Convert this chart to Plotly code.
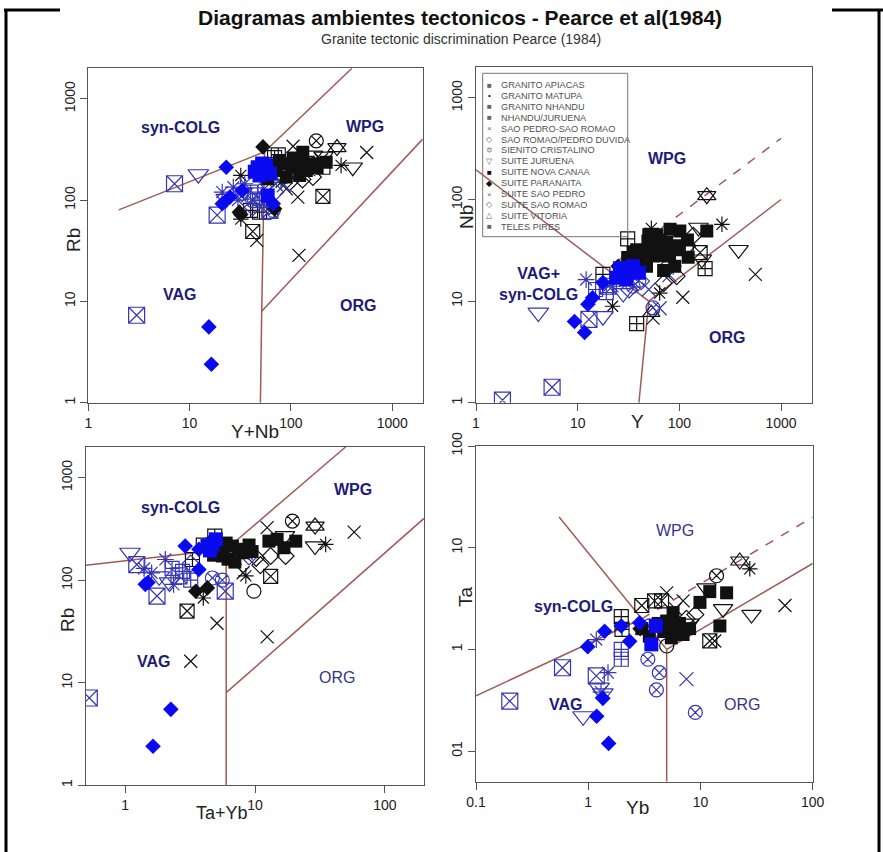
import plotly.graph_objects as go

W, H = 883, 852

# ---------------- DATA ----------------
# Panel 1 : Rb vs Y+Nb
P1_X = [3.0, 7.1, 18.7, 62, 45,
        12.2, 23, 33,
        27, 21, 35, 30,
        42, 67, 63, 55,
        49, 40,
        77, 97, 85,
        42, 70,
        60,
        560, 117, 120, 46, 105, 90, 150, 200,
        178,
        285,
        313, 32, 32, 80,
        408, 165, 210,
        207, 42, 145,
        69, 40, 49, 207, 75,
        165, 97, 130, 110,
        85,
        131, 223, 165, 105, 72, 90, 59, 142, 105, 77, 122, 130, 95, 180,
        53, 31, 69, 32,
        47, 53, 57, 49, 62, 59, 52, 44,
        15.5, 16.4, 23, 21, 25, 33, 67]
P1_Y = [7.3, 145, 71, 79, 110,
        180, 103, 118,
        134, 120, 145, 100,
        99, 79, 86, 130,
        99, 120,
        156, 182, 140,
        85, 120,
        75,
        295, 107, 28.5, 40, 340, 129, 200, 250,
        385,
        330,
        220, 175, 65, 150,
        211, 276, 270,
        109, 49, 230,
        262, 79, 76, 211, 280,
        169, 150, 160, 190,
        170,
        297, 237, 228, 211, 196, 169, 162, 196, 261, 246, 175, 240, 230, 210,
        335, 76, 82, 72,
        211, 196, 220, 175, 182, 111, 230, 190,
        5.6, 2.4, 211, 92, 107, 124, 92]
P1_S = (["b14"] * 5 + ["b6"] * 3 + ["b8"] * 4 + ["b13"] * 4 + ["b12"] * 2 + ["b4"] * 3 + ["b5"] * 2 + ["b1"] +
        ["k4"] * 8 + ["k13"] + ["k11"] + ["k8"] * 4 + ["k6"] * 3 + ["k14"] * 3 + ["k12"] * 5 + ["k5"] * 4 + ["k1"] +
        ["k15"] * 14 + ["k18"] * 4 + ["bs"] * 8 + ["bd"] * 7)

# Panel 2 : Nb vs Y
P2_X = [1.82, 5.6, 12.9, 20,
        4.1, 17.7, 28,
        12.1, 87, 22,
        19.1, 15,
        35, 55, 75, 40,
        42, 32,
        64, 50, 80,
        186,
        262, 53, 22, 64,
        382, 154, 166,
        558, 108, 55,
        31, 179, 38, 17.7,
        137, 94, 120, 70,
        53,
        160,
        81, 101, 186, 122, 75, 49, 38, 55, 41, 31, 64, 47.5, 60, 70, 90, 45, 55, 65, 80, 100, 120, 90, 70, 35, 50,
        25,
        28, 32.5, 30, 24, 35, 26, 40,
        9.3, 11.7, 12.6, 14, 17.7]
P2_Y = [1.06, 1.42, 6.6, 14,
        7.7, 7.1, 12,
        16.3, 22, 14,
        12.1, 13,
        14, 8.6, 21, 16,
        15.7, 13,
        8.5, 13, 18,
        109,
        57, 52, 8.9, 12,
        32, 53, 25.8,
        18.3, 10.9, 6.8,
        41, 20.9, 6.0, 18.3,
        44, 17.6, 35, 15,
        7.7,
        30,
        51, 49, 49, 27, 37.7, 39, 32, 27.8, 25.8, 26.8, 30, 22, 45, 28, 35, 30, 35, 40, 28, 32, 40, 22, 20, 30, 45,
        22,
        19, 20.5, 16.3, 17, 22, 21, 19,
        6.3, 4.9, 9.3, 10.8, 15.2]
P2_S = (["b14"] * 4 + ["b6"] * 3 + ["b8"] * 3 + ["b12"] * 2 + ["b13"] * 4 + ["b5"] * 2 + ["b4"] * 3 +
        ["k11"] + ["k8"] * 4 + ["k6"] * 3 + ["k4"] * 3 + ["k12"] * 4 + ["k5"] * 4 + ["k2"] + ["k14"] +
        ["k15"] * 25 + ["k18"] + ["bs"] * 7 + ["bd"] * 5)

# Panel 3 : Rb vs Ta+Yb
P3_X = [0.53, 1.23, 1.76, 5.9, 2.6,
        1.09, 1.83, 2.2,
        2.04, 2.36, 1.6, 1.4,
        2.77, 3.2, 2.3,
        4.7, 5.6,
        8.5, 7.0,
        3.2, 9,
        58, 3.2, 5.1, 12.4, 12.4, 8.1,
        9.8,
        3.0, 13.2,
        29,
        19.4,
        29, 17,
        35, 4.0, 8.5,
        4.9, 3.3, 4.0,
        17.2, 13.2, 11, 10.2,
        14.8, 20.6, 16.7, 12.8, 6.7, 5.6, 8.1, 7.5, 6.2, 5.2, 9.5, 7, 4.8, 9, 6,
        3.5, 4.3,
        4.7, 4.3, 5.0, 4.5,
        1.43, 2.9, 3.7, 3.7, 1.64, 2.25, 1.5]
P3_Y = [7.1, 142, 70, 78, 110,
        185, 109, 95,
        159, 91, 118, 130,
        122, 100, 130,
        105, 100,
        185, 165,
        145, 170,
        294, 16.2, 38, 28, 325, 118,
        78,
        50, 109,
        337,
        377,
        215, 270,
        223, 67, 110,
        269, 159, 220,
        172, 172, 140, 165,
        250, 240, 207, 240, 215, 172, 185, 200, 160, 190, 190, 150, 175, 220, 230,
        78, 84,
        224, 215, 250, 195,
        91, 215, 200, 127, 2.4, 5.5, 95]
P3_S = (["b14"] * 5 + ["b6"] * 3 + ["b8"] * 4 + ["b12"] * 3 + ["b13"] * 2 + ["b4"] * 2 + ["b5"] * 2 +
        ["k4"] * 6 + ["k1"] + ["k14"] * 2 + ["k11"] + ["k13"] + ["k6"] * 2 + ["k8"] * 3 + ["k12"] * 3 + ["k5"] * 4 +
        ["k15"] * 15 + ["k18"] * 2 + ["bs"] * 4 + ["bd"] * 7)

# Panel 4 : Ta vs Yb
P4_X = [0.2, 0.59, 1.18,
        0.9, 1.35, 1.25,
        1.18, 1.5, 1.3,
        1.97, 1.97,
        3.4, 4.3, 4.05, 9.0, 3.5,
        7.5,
        22.4,
        27.5,
        13.9,
        56.6, 5.0, 13.4, 7.0, 6.0,
        28.5, 15.9, 11.3, 8,
        3.0, 3.9, 12.1, 4.5,
        1.97, 2.0,
        5.0,
        7.5, 9,
        12.1, 17.1, 9.9, 14.9, 8.0, 5.7, 5.0, 6.1, 3.5, 4.7, 6.5, 5.5, 7, 3.0, 4.2,
        2.9,
        3.65, 4.0,
        0.99, 1.4, 1.97, 2.34, 2.87, 1.35, 1.19, 1.52]
P4_Y = [0.31, 0.66, 0.55,
        0.22, 0.37, 0.42,
        1.25, 0.59, 0.38,
        0.8, 1.0,
        0.8, 0.59, 0.4, 0.24, 1.7,
        0.51,
        7.4,
        6.2,
        5.3,
        2.7, 3.6, 1.21, 3.0, 2.5,
        2.2, 2.5, 4.0, 1.8,
        2.7, 3.0, 1.21, 3.0,
        2.1, 1.57,
        1.08,
        2.0, 2.2,
        3.7, 3.6, 2.9, 1.7, 1.6, 2.3, 1.9, 1.46, 1.35, 1.5, 1.8, 1.3, 1.4, 1.6, 1.8,
        1.6,
        1.12, 1.7,
        1.06, 1.51, 1.7, 1.2, 1.83, 0.33, 0.22, 0.119]
P4_S = (["b14"] * 3 + ["b6"] * 3 + ["b8"] * 3 + ["b12"] * 2 + ["b13"] * 5 + ["b4"] +
        ["k11"] + ["k8"] + ["k13"] + ["k4"] * 5 + ["k6"] * 4 + ["k14"] * 4 + ["k12"] * 2 + ["k1"] + ["k5"] * 2 +
        ["k15"] * 15 + ["k18"] + ["bs"] * 2 + ["bd"] * 8)

# Pearce et al. (1984) field boundaries (x pairs, y pairs)
P1_LINES = [((2, 55), (80, 300)), ((55, 400), (300, 2000)), ((55, 51.5), (300, 8)),
            ((51.5, 50), (8, 1)), ((51.5, 2000), (8, 400))]
P2_LINES = [((1, 50), (196, 10)), ((50, 40), (10, 1)), ((50, 1000), (10, 100))]
P2_DASH = [((25, 1000), (25, 400))]
P3_LINES = [((0.5, 6), (140, 200)), ((6, 50), (200, 2000)), ((6, 6), (200, 8)),
            ((6, 6), (8, 1)), ((6, 200), (8, 400))]
P4_LINES = [((0.55, 3), (20, 2)), ((0.1, 3), (0.35, 2)), ((3, 5), (2, 1)),
            ((5, 5), (1, 0.05)), ((5, 100), (1, 7))]
P4_DASH = [((3, 100), (2, 20))]

LEGEND_NAMES = ["GRANITO APIACAS", "GRANITO MATUPA", "GRANITO NHANDU", "NHANDU/JURUENA",
                "SAO PEDRO-SAO ROMAO", "SAO ROMAO/PEDRO DUVIDA", "SIENITO CRISTALINO", "SUITE JURUENA",
                "SUITE NOVA CANAA", "SUITE PARANAITA", "SUITE SAO PEDRO", "SUITE SAO ROMAO",
                "SUITE VITORIA", "TELES PIRES"]
LEGEND_GLYPHS = ["■", "•", "■", "■", "×", "◇", "✡", "▽", "■", "◆", "×", "◇", "△", "■"]

# ---------------- STYLES ----------------
BLUE_O = "#3636b4"
BLUE_F = "#0a0af0"
BLACK = "#111111"
LINE_C = "#a05a55"
LABEL_C = "#1c1c78"
FONT = "Liberation Sans, Arial, sans-serif"


def om(sym, col, size, lw=1.2):
    return dict(symbol=sym, size=size, color=col, line=dict(width=lw, color=col))


def fm(sym, col, size):
    return dict(symbol=sym, size=size, color=col, line=dict(width=0))


STYLES = {
    "k4": [om("x-thin-open", BLACK, 13, 1.2)],
    "k13": [om("circle-x-open", BLACK, 14)],
    "k11": [om("triangle-up-open", BLACK, 16), om("triangle-down-open", BLACK, 16)],
    "k8": [om("asterisk-open", BLACK, 13)],
    "k6": [om("triangle-down-open", BLACK, 17)],
    "k14": [om("square-x-open", BLACK, 14)],
    "k12": [om("square-cross-open", BLACK, 14)],
    "k5": [om("diamond-open", BLACK, 13)],
    "k1": [om("circle-open", BLACK, 14)],
    "k2": [om("triangle-up-open", BLACK, 15)],
    "b14": [om("square-x-open", BLUE_O, 16)],
    "b6": [om("triangle-down-open", BLUE_O, 18)],
    "b8": [om("asterisk-open", BLUE_O, 14)],
    "b13": [om("circle-x-open", BLUE_O, 14)],
    "b12": [om("square-cross-open", BLUE_O, 14)],
    "b4": [om("x-thin-open", BLUE_O, 14)],
    "b5": [om("diamond-open", BLUE_O, 13)],
    "b1": [om("circle-open", BLUE_O, 14)],
    "k15": [fm("square", BLACK, 13)],
    "k18": [fm("diamond", BLACK, 12)],
    "bs": [fm("square", BLUE_F, 14)],
    "bd": [fm("diamond", BLUE_F, 12)],
}
ORDER = ["k4", "k13", "k11", "k8", "k6", "k14", "k12", "k5", "k1", "k2",
         "b14", "b6", "b8", "b13", "b12", "b4", "b5", "b1",
         "k15", "k18", "bs", "bd"]

fig = go.Figure()


def axnames(k):
    return ("x", "y") if k == 1 else ("x%d" % k, "y%d" % k)


def add_lines(k, segs, dash="solid"):
    xa, ya = axnames(k)
    for xs, ys in segs:
        fig.add_trace(go.Scatter(x=list(xs), y=list(ys), mode="lines", xaxis=xa, yaxis=ya,
                                 line=dict(color=LINE_C, width=1.5, dash=dash),
                                 showlegend=False, hoverinfo="skip"))


def add_points(k, xs, ys, ss):
    xa, ya = axnames(k)
    for key in ORDER:
        idx = [i for i, s in enumerate(ss) if s == key]
        if not idx:
            continue
        X = [xs[i] for i in idx]
        Y = [ys[i] for i in idx]
        for mk in STYLES[key]:
            fig.add_trace(go.Scatter(x=X, y=Y, mode="markers", xaxis=xa, yaxis=ya,
                                     marker=mk, showlegend=False, hoverinfo="skip"))


add_lines(1, P1_LINES)
add_lines(2, P2_LINES)
add_lines(2, P2_DASH, "dash")
add_lines(3, P3_LINES)
add_lines(4, P4_LINES)
add_lines(4, P4_DASH, "dash")
add_points(1, P1_X, P1_Y, P1_S)
add_points(2, P2_X, P2_Y, P2_S)
add_points(3, P3_X, P3_Y, P3_S)
add_points(4, P4_X, P4_Y, P4_S)


def px(x):
    return x / W


def py(y):
    return 1 - y / H


AX = dict(type="log", showgrid=False, zeroline=False, showline=True, mirror=True, automargin=False,
          linecolor="#555555", linewidth=1.3, ticks="outside", ticklen=7, tickwidth=1.3,
          tickcolor="#555555", tickfont=dict(family=FONT, size=14, color="#222222"))

# pixel boxes of the four panels: (left, top, right, bottom)
BOX = {1: (88.3, 68.3, 422.7, 402.7), 2: (476, 67.3, 811.7, 402.7),
       3: (86, 446.7, 424, 785.3), 4: (476, 446, 812.7, 781.7)}
XR = {1: [0, 3.301], 2: [0, 3.301], 3: [-0.301, 2.301], 4: [-1, 2]}
YR = {1: [0, 3.301], 2: [0, 3.301], 3: [0, 3.301], 4: [-1.301, 2]}
XT = {1: ([1, 10, 100, 1000], ["1", "10", "100", "1000"]),
      2: ([1, 10, 100, 1000], ["1", "10", "100", "1000"]),
      3: ([1, 10, 100], ["1", "10", "100"]),
      4: ([0.1, 1, 10, 100], ["0.1", "1", "10", "100"])}
YT = {1: ([1, 10, 100, 1000], ["1", "10", "100", "1000"]),
      2: ([1, 10, 100, 1000], ["1", "10", "100", "1000"]),
      3: ([1, 10, 100, 1000], ["1", "10", "100", "1000"]),
      4: ([0.1, 1, 10, 100], ["01", "1", "10", "100"])}

lay = {}
for k in range(1, 5):
    l, t, r, b = BOX[k]
    xn = "xaxis" if k == 1 else "xaxis%d" % k
    yn = "yaxis" if k == 1 else "yaxis%d" % k
    xa, ya = axnames(k)
    lay[xn] = dict(AX, domain=[px(l), px(r)], range=XR[k], anchor=ya,
                   tickvals=XT[k][0], ticktext=XT[k][1], tickangle=0)
    lay[yn] = dict(AX, domain=[py(b), py(t)], range=YR[k], anchor=xa,
                   tickvals=YT[k][0], ticktext=YT[k][1], tickangle=-90)

ann = []


def txt(x, y, s, size, color="#222222", bold=False, angle=0, family=FONT, xanchor="center"):
    ann.append(dict(x=px(x), y=py(y), xref="paper", yref="paper", text=("<b>%s</b>" % s) if bold else s,
                    showarrow=False, textangle=angle, xanchor=xanchor, yanchor="middle",
                    font=dict(family=family, size=size, color=color)))


# titles
txt(460, 18, "Diagramas ambientes tectonicos - Pearce et al(1984)", 21, "#111111", True)
txt(461, 39, "Granite tectonic discrimination Pearce (1984)", 14, "#333333")

# axis titles
txt(255, 431, "Y+Nb", 19)
txt(73, 240, "Rb", 19, angle=-90)
txt(637, 421, "Y", 19)
txt(466, 217, "Nb", 19, angle=-90)
txt(222, 813, "Ta+Yb", 18)
txt(67, 620, "Rb", 19, angle=-90)
txt(637, 807, "Yb", 19)
txt(465, 597, "Ta", 19, angle=-90)

# field labels
txt(180, 128, "syn-COLG", 16, LABEL_C, True)
txt(365, 127, "WPG", 16, LABEL_C, True)
txt(179, 294, "VAG", 16, LABEL_C, True)
txt(358, 305, "ORG", 16, LABEL_C, True)
txt(667, 158, "WPG", 16, LABEL_C, True)
txt(538, 284, "VAG+<br>syn-COLG", 16, LABEL_C, True)
txt(727, 337, "ORG", 16, LABEL_C, True)
txt(180, 508, "syn-COLG", 16, LABEL_C, True)
txt(353, 489, "WPG", 16, LABEL_C, True)
txt(153, 661, "VAG", 16, LABEL_C, True)
txt(337, 677, "ORG", 16, "#34348a")
txt(675, 530, "WPG", 16, "#34348a")
txt(573, 606, "syn-COLG", 16, LABEL_C, True)
txt(565, 704, "VAG", 16, LABEL_C, True)
txt(742, 704, "ORG", 16, "#34348a")

# legend (manual, compact like R)
for i, (name, g) in enumerate(zip(LEGEND_NAMES, LEGEND_GLYPHS)):
    yy = 85 + i * 10.9
    gc = "#111111" if name in ("SUITE NOVA CANAA", "SUITE PARANAITA", "GRANITO MATUPA") else "#666666"
    txt(489.5, yy, g, 8, gc)
    txt(499, yy, name, 9.2, "#505050", xanchor="left")

shapes = [dict(type="rect", xref="paper", yref="paper", x0=px(482.7), x1=px(627.7),
               y0=py(236.7), y1=py(73.3), line=dict(color="#777777", width=1))]
# outer scan frame
for seg in [((6, 10), (6, 852)), ((879, 10), (879, 852)), ((4, 10), (60, 10)), ((832, 10), (883, 10))]:
    (x0, y0), (x1, y1) = seg
    shapes.append(dict(type="line", xref="paper", yref="paper", x0=px(x0), y0=py(y0), x1=px(x1), y1=py(y1),
                       line=dict(color="#000000", width=3)))

fig.update_layout(width=W, height=H, margin=dict(l=0, r=0, t=0, b=0, pad=0, autoexpand=False),
                  paper_bgcolor="white", plot_bgcolor="white", showlegend=False,
                  annotations=ann, shapes=shapes, **lay)
fig.write_html("out.html", post_script="document.body.style.margin='0';")
